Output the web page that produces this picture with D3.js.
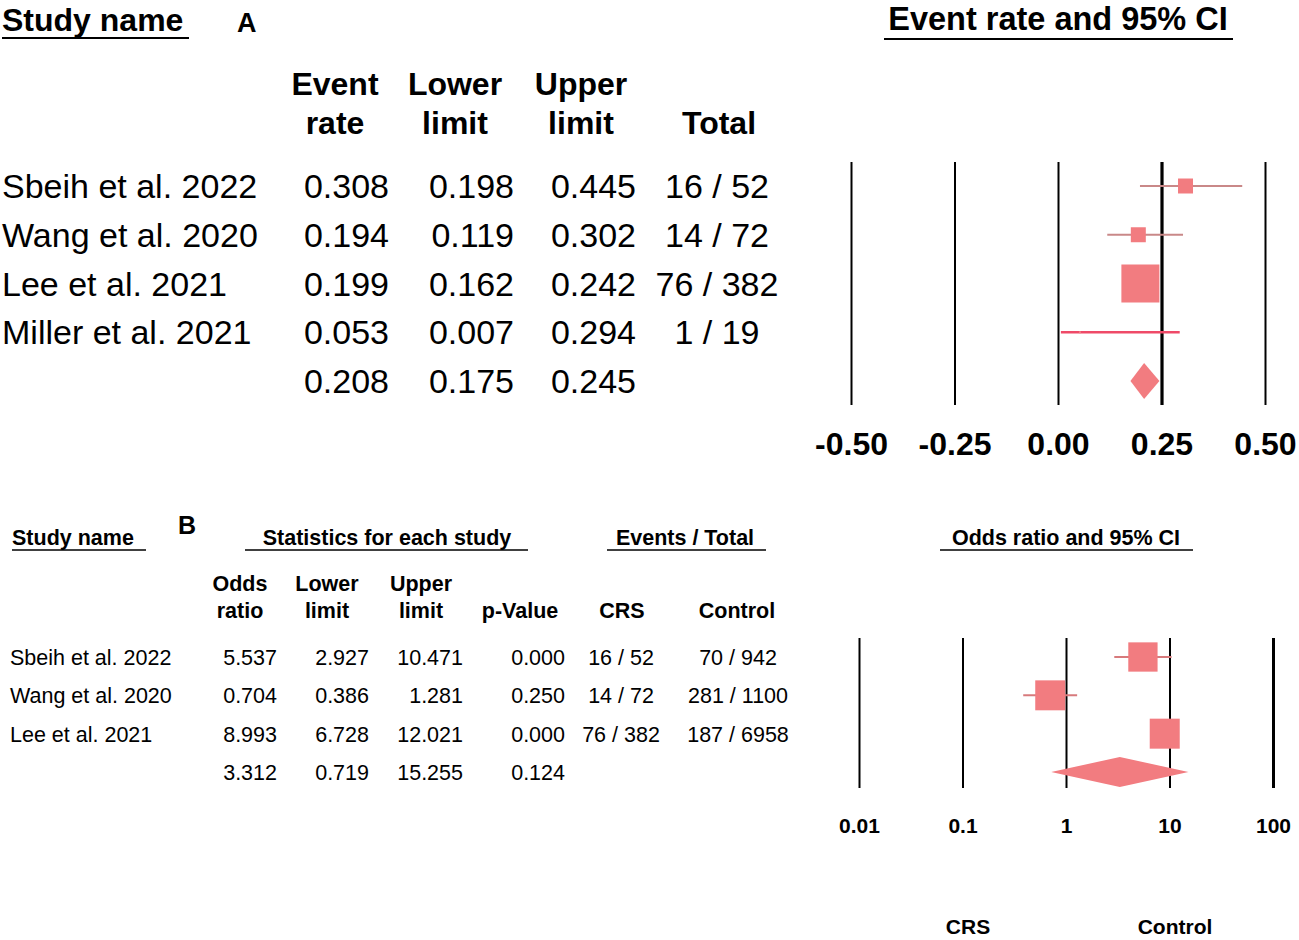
<!DOCTYPE html>
<html>
<head>
<meta charset="utf-8">
<script src="https://cdn.jsdelivr.net/npm/d3@7"></script>
<style>
  html, body { margin: 0; padding: 0; background: #fff; }
  svg { display: block; font-family: "Liberation Sans", Arial, sans-serif; }
</style>
</head>
<body>
<svg id="chart" width="1299" height="940"></svg>
<script>
// ---------- Panel A data ----------
const studiesA = ["Sbeih et al. 2022", "Wang et al. 2020", "Lee et al. 2021", "Miller et al. 2021"];
const rateA = [0.308, 0.194, 0.199, 0.053];
const lowerA = [0.198, 0.119, 0.162, 0.007];
const upperA = [0.445, 0.302, 0.242, 0.294];
const totalA = ["16 / 52", "14 / 72", "76 / 382", "1 / 19"];
const weightA = [11.6, 11.6, 74.6, 0.2];
const summaryA = { rate: 0.208, lower: 0.175, upper: 0.245 };
const ticksA = [-0.5, -0.25, 0, 0.25, 0.5];

// ---------- Panel B data ----------
const studiesB = ["Sbeih et al. 2022", "Wang et al. 2020", "Lee et al. 2021"];
const orB = [5.537, 0.704, 8.993];
const lowerB = [2.927, 0.386, 6.728];
const upperB = [10.471, 1.281, 12.021];
const pB = ["0.000", "0.250", "0.000"];
const crsB = ["16 / 52", "14 / 72", "76 / 382"];
const controlB = ["70 / 942", "281 / 1100", "187 / 6958"];
const weightB = [32.3, 33.8, 33.9];
const summaryB = { or: 3.312, lower: 0.719, upper: 15.255, p: "0.124" };
const ticksB = [0.01, 0.1, 1, 10, 100];
const tickLabelsB = ["0.01", "0.1", "1", "10", "100"];

const fillCol = "#f27c80";
const svg = d3.select("#chart");
const fmt3 = d3.format(".3f");

function txt(g, x, y, s, size, weight, anchor) {
  return g.append("text").attr("x", x).attr("y", y).text(s)
    .attr("font-size", size).attr("font-weight", weight || "normal")
    .attr("text-anchor", anchor || "start").attr("fill", "#000");
}
function uline(g, x1, x2, y, w) {
  g.append("line").attr("x1", x1).attr("x2", x2).attr("y1", y).attr("y2", y)
    .attr("stroke", "#000").attr("stroke-width", w || 2);
}

// =============== PANEL A ===============
const gA = svg.append("g");
txt(gA, 2, 31, "Study name", 32, "bold");
uline(gA, 2, 189, 38, 2);
txt(gA, 237, 32, "A", 27, "bold");
txt(gA, 1058, 30, "Event rate and 95% CI", 32.5, "bold", "middle");
uline(gA, 884, 1233, 39, 2);

[["Event", "rate", 335], ["Lower", "limit", 455], ["Upper", "limit", 581], ["", "Total", 719]].forEach(h => {
  if (h[0]) txt(gA, h[2], 95, h[0], 32, "bold", "middle");
  txt(gA, h[2], 134, h[1], 32, "bold", "middle");
});

const yA = d3.scalePoint().domain(d3.range(studiesA.length + 1)).range([186, 381]);
const xA = d3.scaleLinear().domain([-0.5, 0.5]).range([851, 1265]);
const sA = d3.scaleSqrt().domain([0, d3.max(weightA)]).range([0, 38]);

studiesA.forEach((s, i) => {
  const by = yA(i) + 12;
  txt(gA, 2, by, s, 34);
  txt(gA, 389, by, fmt3(rateA[i]), 34, "normal", "end");
  txt(gA, 514, by, fmt3(lowerA[i]), 34, "normal", "end");
  txt(gA, 636, by, fmt3(upperA[i]), 34, "normal", "end");
  txt(gA, 717, by, totalA[i], 34, "normal", "middle");
});
{
  const by = yA(studiesA.length) + 12;
  txt(gA, 389, by, fmt3(summaryA.rate), 34, "normal", "end");
  txt(gA, 514, by, fmt3(summaryA.lower), 34, "normal", "end");
  txt(gA, 636, by, fmt3(summaryA.upper), 34, "normal", "end");
}

// axis / gridlines A
const axA = gA.append("g").attr("transform", "translate(0,405)")
  .call(d3.axisBottom(xA).tickValues(ticksA).tickSize(-(405 - 162)).tickPadding(27)
    .tickFormat(d3.format(".2f")));
axA.select(".domain").remove();
axA.selectAll(".tick line").attr("stroke", "#000").attr("stroke-width", d => d === 0.25 ? 3.2 : 2);
axA.selectAll(".tick text").attr("font-size", 32).attr("font-weight", "bold")
  .attr("fill", "#000").attr("font-family", "'Liberation Sans', Arial, sans-serif")
  .text(d => d < 0 ? "-" + d3.format(".2f")(-d) : d3.format(".2f")(d));

// CI lines A
studiesA.forEach((s, i) => {
  gA.append("line").attr("x1", xA(lowerA[i])).attr("x2", xA(upperA[i]))
    .attr("y1", yA(i)).attr("y2", yA(i))
    .attr("stroke", i === 3 ? "#ef4a68" : "#c98888").attr("stroke-width", i === 3 ? 2.5 : 1.8);
  const sz = Math.max(sA(weightA[i]), 2);
  gA.append("rect").attr("x", xA(rateA[i]) - sz / 2).attr("y", yA(i) - sz / 2)
    .attr("width", sz).attr("height", sz).attr("fill", fillCol);
});
{
  const cy = yA(studiesA.length);
  const pts = [[xA(summaryA.lower), cy], [xA(summaryA.rate), cy - 18],
               [xA(summaryA.upper), cy], [xA(summaryA.rate), cy + 18]];
  gA.append("polygon").attr("points", pts.map(p => p.join(",")).join(" ")).attr("fill", fillCol);
}

// =============== PANEL B ===============
const gB = svg.append("g");
const hf = 21.5;
txt(gB, 12, 545, "Study name", hf, "bold");
uline(gB, 12, 146, 550, 1.6);
txt(gB, 178, 534, "B", 25, "bold");
txt(gB, 387, 545, "Statistics for each study", hf, "bold", "middle");
uline(gB, 245, 528, 550, 1.6);
txt(gB, 685, 545, "Events / Total", hf, "bold", "middle");
uline(gB, 607, 766, 550, 1.6);
txt(gB, 1066, 545, "Odds ratio and 95% CI", hf, "bold", "middle");
uline(gB, 940, 1193, 550, 1.6);

[["Odds", "ratio", 240], ["Lower", "limit", 327], ["Upper", "limit", 421], ["", "p-Value", 520],
 ["", "CRS", 622], ["", "Control", 737]].forEach(h => {
  if (h[0]) txt(gB, h[2], 591, h[0], hf, "bold", "middle");
  txt(gB, h[2], 618, h[1], hf, "bold", "middle");
});

const yB = d3.scalePoint().domain(d3.range(studiesB.length + 1)).range([657, 772]);
const xB = d3.scaleLog().domain([0.01, 100]).range([859, 1273]);
const sB = d3.scaleSqrt().domain([0, d3.max(weightB)]).range([0, 30]);
const rf = 21.5;

studiesB.forEach((s, i) => {
  const by = yB(i) + 8;
  txt(gB, 10, by, s, rf);
  txt(gB, 277, by, fmt3(orB[i]), rf, "normal", "end");
  txt(gB, 369, by, fmt3(lowerB[i]), rf, "normal", "end");
  txt(gB, 463, by, fmt3(upperB[i]), rf, "normal", "end");
  txt(gB, 565, by, pB[i], rf, "normal", "end");
  txt(gB, 621, by, crsB[i], rf, "normal", "middle");
  txt(gB, 738, by, controlB[i], rf, "normal", "middle");
});
{
  const by = yB(studiesB.length) + 8;
  txt(gB, 277, by, fmt3(summaryB.or), rf, "normal", "end");
  txt(gB, 369, by, fmt3(summaryB.lower), rf, "normal", "end");
  txt(gB, 463, by, fmt3(summaryB.upper), rf, "normal", "end");
  txt(gB, 565, by, summaryB.p, rf, "normal", "end");
}

const axB = gB.append("g").attr("transform", "translate(0,788)")
  .call(d3.axisBottom(xB).tickValues(ticksB).tickSize(-(788 - 638)).tickPadding(30)
    .tickFormat((d, i) => tickLabelsB[i]));
axB.select(".domain").remove();
axB.selectAll(".tick line").attr("stroke", "#000").attr("stroke-width", d => d === 100 ? 3 : 2);
axB.selectAll(".tick text").attr("font-size", 21).attr("font-weight", "bold")
  .attr("fill", "#000").attr("font-family", "'Liberation Sans', Arial, sans-serif");

studiesB.forEach((s, i) => {
  gB.append("line").attr("x1", xB(lowerB[i])).attr("x2", xB(upperB[i]))
    .attr("y1", yB(i)).attr("y2", yB(i))
    .attr("stroke", "#d77a7c").attr("stroke-width", 2);
  const sz = sB(weightB[i]);
  gB.append("rect").attr("x", xB(orB[i]) - sz / 2).attr("y", yB(i) - sz / 2)
    .attr("width", sz).attr("height", sz).attr("fill", fillCol);
});
{
  const cy = yB(studiesB.length);
  const pts = [[xB(summaryB.lower), cy], [xB(summaryB.or), cy - 15],
               [xB(summaryB.upper), cy], [xB(summaryB.or), cy + 15]];
  gB.append("polygon").attr("points", pts.map(p => p.join(",")).join(" ")).attr("fill", fillCol);
}

txt(gB, 968, 934, "CRS", 21, "bold", "middle");
txt(gB, 1175, 934, "Control", 21, "bold", "middle");
</script>
</body>
</html>
